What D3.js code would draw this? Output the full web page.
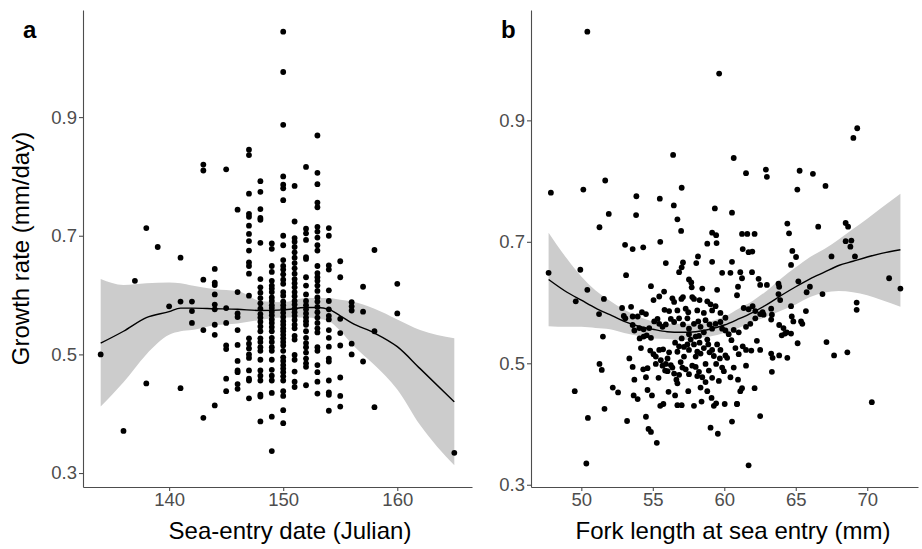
<!DOCTYPE html>
<html><head><meta charset="utf-8">
<script src="https://cdn.jsdelivr.net/npm/d3@7"></script>
<style>
body{margin:0;background:#fff}
svg{display:block}
text{font-family:"Liberation Sans",Arial,Helvetica,sans-serif}
</style>
</head><body>
<svg id="chart" width="922" height="549"></svg>
<script>
// ---------- Panel a: growth rate vs sea-entry date ----------
const datesA = [134,136,137,138,139,140,141,142,143,144,145,146,147,148,149,150,151,152,153,154,155,156,157,158,160,165];
const growthByDateA = [
  [0.500],
  [0.371],
  [0.624],
  [0.713,0.451],
  [0.681],
  [0.581],
  [0.663,0.589,0.443],
  [0.589,0.573,0.553],
  [0.820,0.810,0.626,0.541,0.393],
  [0.644,0.621,0.617,0.601,0.584,0.576,0.550,0.533,0.414],
  [0.812,0.578,0.553,0.515,0.509,0.459,0.438],
  [0.744,0.605,0.569,0.563,0.541,0.516,0.489,0.473,0.470,0.450,0.442],
  [0.845,0.836,0.771,0.737,0.732,0.717,0.703,0.691,0.675,0.655,0.649,0.636,0.599,0.527,0.518,0.510,0.500,0.494,0.473,0.459,0.456,0.426],
  [0.792,0.774,0.745,0.730,0.727,0.688,0.627,0.613,0.604,0.595,0.586,0.577,0.568,0.562,0.555,0.547,0.539,0.527,0.521,0.512,0.506,0.491,0.473,0.464,0.456,0.432,0.429,0.387],
  [0.687,0.678,0.649,0.639,0.624,0.616,0.611,0.605,0.596,0.590,0.583,0.578,0.572,0.566,0.559,0.553,0.546,0.539,0.528,0.521,0.512,0.506,0.491,0.474,0.464,0.456,0.435,0.395,0.337],
  [1.044,0.976,0.887,0.800,0.786,0.780,0.760,0.700,0.684,0.659,0.649,0.643,0.635,0.626,0.619,0.605,0.599,0.589,0.583,0.577,0.570,0.563,0.556,0.550,0.544,0.539,0.533,0.527,0.521,0.515,0.506,0.495,0.489,0.482,0.476,0.470,0.463,0.456,0.438,0.430,0.406,0.384],
  [0.784,0.724,0.696,0.690,0.681,0.672,0.663,0.654,0.645,0.636,0.627,0.620,0.613,0.605,0.598,0.590,0.584,0.577,0.571,0.565,0.558,0.550,0.544,0.531,0.525,0.499,0.491,0.471,0.454,0.445],
  [0.816,0.712,0.704,0.693,0.664,0.661,0.630,0.616,0.601,0.590,0.583,0.576,0.569,0.562,0.556,0.550,0.539,0.528,0.519,0.512,0.503,0.493,0.485,0.479,0.448],
  [0.869,0.806,0.787,0.756,0.748,0.715,0.707,0.697,0.684,0.675,0.649,0.637,0.630,0.624,0.616,0.607,0.596,0.589,0.580,0.571,0.562,0.553,0.544,0.537,0.512,0.506,0.482,0.470,0.454,0.434],
  [0.713,0.700,0.650,0.643,0.608,0.590,0.576,0.565,0.559,0.541,0.528,0.513,0.493,0.488,0.456,0.436,0.432,0.405],
  [0.657,0.630,0.560,0.536,0.515,0.461,0.430,0.412],
  [0.588,0.581,0.574,0.518,0.500],
  [0.614,0.572,0.488],
  [0.676,0.539,0.411],
  [0.619,0.569],
  [0.334]
];
// loess smooth
const smoothAx   = [134,136,138,140,141,142,144,146,148,150,152,153,154,155,156,158,160,162,165];
const smoothAfit = [0.519,0.539,0.562,0.572,0.578,0.578,0.577,0.576,0.574,0.575,0.579,0.579,0.576,0.565,0.553,0.536,0.513,0.476,0.420];
const smoothAhi  = [0.627,0.617,0.620,0.621,0.620,0.616,0.610,0.607,0.590,0.588,0.595,0.595,0.595,0.592,0.589,0.577,0.559,0.541,0.527];
const smoothAlo  = [0.412,0.453,0.500,0.533,0.539,0.541,0.549,0.552,0.558,0.562,0.562,0.560,0.556,0.540,0.518,0.482,0.441,0.381,0.313];
const xTicksA = [140,150,160];
const yTicks = [0.3,0.5,0.7,0.9];

// ---------- Panel b: growth rate vs fork length ----------
const forkLength = [
 50.42,59.64,69.30,69.03,56.42,60.66,61.52,62.91,62.98,65.27,66.20,65.11,67.08,47.87,50.14,51.67,53.85,55.49,57.02,56.47,
 59.34,60.54,51.92,53.83,56.72,51.27,56.98,59.15,59.43,61.24,61.61,62.12,64.41,64.53,66.57,68.49,68.66,55.52,53.06,53.59,
 54.33,58.81,59.46,61.29,61.70,61.96,64.76,65.02,68.49,68.89,68.82,69.14,67.50,64.67,71.53,72.32,47.71,49.93,50.42,49.61,
 51.58,51.24,51.51,51.27,51.43,49.54,50.46,50.35,52.20,52.57,51.62,53.20,54.52,54.70,54.87,55.28,59.04,59.55,61.70,62.51,
 60.54,70.32,67.15,67.68,68.61,69.26,69.26,66.87,65.76,65.99,65.71,65.13,64.41,63.33,62.12,60.03,60.89,
 53.13,54.87,55.91,56.84,57.02,57.11,57.53,57.69,58.04,58.16,57.72,58.46,59.50,59.15,59.85,60.43,60.54,61.12,61.24,60.96,
 61.94,62.40,62.51,62.98,63.79,63.84,
 53.48,53.59,53.94,54.24,54.52,55.05,55.45,55.79,55.82,56.14,56.37,56.49,56.72,57.00,57.11,57.30,57.48,57.76,57.88,58.11,
 58.27,58.57,58.81,59.04,59.15,59.39,59.73,60.08,60.89,61.36,61.70,61.98,62.17,62.51,62.68,63.28,63.79,63.91,
 52.97,53.71,54.06,54.75,55.10,55.33,55.45,55.68,55.91,56.26,56.49,56.84,57.11,57.42,57.53,57.88,58.18,58.34,58.69,58.97,
 59.15,59.39,59.73,59.85,60.08,60.31,60.66,61.01,61.52,61.82,62.17,62.75,63.33,63.84,64.14,64.37,
 54.08,54.36,54.87,54.17,54.82,55.21,55.56,55.72,56.03,56.14,56.56,56.72,56.84,57.02,57.18,57.42,57.53,57.65,57.88,58.00,
 58.11,58.27,58.57,58.81,58.97,59.27,59.50,59.73,60.08,60.20,60.50,60.78,61.01,61.29,61.52,61.89,62.28,62.51,63.28,63.38,
 64.02,64.25,64.67,64.67,64.72,64.83,65.37,65.46,65.18,63.28,63.84,
 53.36,53.59,53.71,53.66,53.94,54.33,54.63,54.52,54.63,54.94,55.21,55.40,55.52,55.74,55.91,56.03,56.10,56.37,56.56,56.72,
 56.72,56.84,57.07,57.02,57.48,57.88,58.00,58.23,58.34,58.46,58.41,58.69,58.81,59.11,59.27,59.43,59.62,59.97,60.43,60.66,
 60.96,60.89,61.12,61.24,61.52,
 52.85,53.08,53.59,54.36,54.57,
 55.05,55.45,55.68,55.86,56.26,56.49,56.65,56.95,57.18,57.30,57.53,57.76,58.00,58.11,58.34,58.69,58.92,59.15,59.43,59.69,
 59.85,57.53,58.23,58.57,58.88,59.15
];
const growthRateB = [
 1.046,0.977,0.887,0.871,0.843,0.838,0.813,0.819,0.807,0.817,0.812,0.786,0.792,0.781,0.786,0.801,0.775,0.771,0.789,0.760,
 0.755,0.748,0.746,0.744,0.737,0.724,0.718,0.715,0.711,0.713,0.713,0.713,0.730,0.714,0.725,0.731,0.725,0.700,0.695,0.688,
 0.691,0.697,0.698,0.688,0.683,0.684,0.685,0.675,0.701,0.702,0.692,0.676,0.676,0.662,0.640,0.623,0.649,0.654,0.621,0.602,
 0.606,0.581,0.544,0.499,0.489,0.454,0.410,0.335,0.460,0.452,0.425,0.405,0.412,0.392,0.387,0.369,0.394,0.384,0.332,0.413,
 0.404,0.436,0.535,0.513,0.518,0.600,0.588,0.614,0.617,0.626,0.586,0.533,0.509,0.486,0.459,0.433,0.433,
 0.645,0.627,0.665,0.650,0.658,0.666,0.638,0.633,0.665,0.676,0.625,0.623,0.621,0.667,0.649,0.649,0.667,0.650,0.640,0.626,
 0.650,0.639,0.629,0.629,0.631,0.626,
 0.593,0.577,0.577,0.584,0.581,0.604,0.610,0.618,0.588,0.586,0.607,0.601,0.587,0.606,0.609,0.590,0.584,0.609,0.606,0.587,
 0.604,0.583,0.602,0.597,0.587,0.594,0.583,0.575,0.612,0.591,0.589,0.594,0.586,0.581,0.584,0.590,0.614,0.604,
 0.578,0.554,0.558,0.558,0.569,0.573,0.565,0.560,0.564,0.573,0.568,0.574,0.564,0.574,0.557,0.565,0.569,0.560,0.571,0.564,
 0.557,0.565,0.568,0.557,0.554,0.548,0.555,0.551,0.560,0.565,0.574,0.580,0.580,0.563,0.558,0.551,
 0.541,0.544,0.542,0.525,0.521,0.511,0.505,0.523,0.508,0.518,0.534,0.519,0.528,0.541,0.527,0.531,0.522,0.539,0.531,0.544,
 0.519,0.534,0.525,0.539,0.518,0.512,0.531,0.522,0.513,0.509,0.538,0.525,0.515,0.528,0.522,0.521,0.537,0.522,0.516,0.509,
 0.546,0.549,0.549,0.594,0.577,0.569,0.569,0.565,0.635,0.572,0.513,
 0.508,0.494,0.473,0.447,0.441,0.490,0.492,0.477,0.456,0.447,0.499,0.476,0.430,0.433,0.499,0.487,0.453,0.493,0.447,0.467,
 0.431,0.481,0.493,0.431,0.454,0.430,0.494,0.486,0.460,0.477,0.437,0.469,0.454,0.443,0.430,0.434,0.471,0.487,0.477,0.493,
 0.473,0.433,0.454,0.459,0.496,
 0.591,0.574,0.563,0.556,0.546,
 0.515,0.522,0.496,0.488,0.497,0.483,0.473,0.502,0.511,0.490,0.482,0.496,0.511,0.479,0.516,0.499,0.488,0.476,0.499,0.508,
 0.493,0.548,0.545,0.551,0.531,0.522
];
const smoothBx   = [47.71,49,50,51,52,53,54,55,56,57,58,59,60,61,62,63,64,65,66,67,68,69,70,71,72.32];
const smoothBfit = [0.638,0.617,0.604,0.591,0.580,0.569,0.561,0.556,0.552,0.551,0.552,0.556,0.563,0.573,0.584,0.597,0.612,0.626,0.639,0.650,0.661,0.668,0.675,0.681,0.687];
const smoothBhi  = [0.715,0.672,0.643,0.620,0.603,0.588,0.577,0.569,0.565,0.565,0.565,0.569,0.577,0.590,0.603,0.620,0.640,0.658,0.675,0.688,0.704,0.721,0.738,0.756,0.779];
const smoothBlo  = [0.561,0.560,0.560,0.558,0.556,0.550,0.545,0.541,0.540,0.538,0.541,0.544,0.550,0.558,0.568,0.577,0.587,0.597,0.609,0.616,0.619,0.617,0.612,0.604,0.593];
const xTicksB = [50,55,60,65,70];

// ---------- drawing ----------
const svg = d3.select("#chart");
const TOP = 10, BOTTOM = 487;
const AXIS_COL = "#4d4d4d", TICK_TXT = "#4d4d4d";

function expand(vals, f = 0.05) {
  const [a, b] = d3.extent(vals);
  const r = b - a;
  return [a - r * f, b + r * f];
}

function drawPanel(cfg) {
  const g = svg.append("g");
  const x = d3.scaleLinear().domain(expand(cfg.xAll)).range([cfg.left, cfg.right]);
  const y = d3.scaleLinear().domain(expand(cfg.yAll)).range([BOTTOM, TOP]);

  const band = cfg.sx.map((v, i) => ({x: v, lo: cfg.slo[i], hi: cfg.shi[i], f: cfg.sfit[i]}));
  g.append("path").datum(band)
    .attr("fill", "#cccccc")
    .attr("d", d3.area().curve(d3.curveMonotoneX).x(d => x(d.x)).y0(d => y(d.lo)).y1(d => y(d.hi)));

  g.append("g").selectAll("circle").data(cfg.points).join("circle")
    .attr("cx", d => x(d[0])).attr("cy", d => y(d[1])).attr("r", 2.9).attr("fill", "#000");

  g.append("path").datum(band)
    .attr("fill", "none").attr("stroke", "#000").attr("stroke-width", 1.4)
    .attr("d", d3.line().curve(d3.curveMonotoneX).x(d => x(d.x)).y(d => y(d.f)));

  const ax = g.append("g").attr("transform", `translate(0,${BOTTOM})`)
    .call(d3.axisBottom(x).tickValues(cfg.xTicks).tickFormat(d3.format("d")).tickSize(4).tickSizeOuter(0).tickPadding(2));
  const ay = g.append("g").attr("transform", `translate(${cfg.left},0)`)
    .call(d3.axisLeft(y).tickValues(yTicks).tickFormat(d3.format(".1f")).tickSize(4).tickSizeOuter(0).tickPadding(2));
  [ax, ay].forEach(a => {
    a.select(".domain").attr("stroke", AXIS_COL).attr("stroke-width", 1.1);
    a.selectAll(".tick line").attr("stroke", AXIS_COL).attr("stroke-width", 1.1);
    a.selectAll(".tick text").attr("fill", TICK_TXT).style("font-size", "18.5px")
      .style("font-family", '"Liberation Sans",Arial,sans-serif');
  });

  g.append("text").attr("x", cfg.xTitleX).attr("y", 539).attr("text-anchor", "middle")
    .style("font-size", "24px").attr("fill", "#000").text(cfg.xTitle);
  g.append("text").attr("x", cfg.tagX).attr("y", 38)
    .style("font-size", "24px").style("font-weight", "bold").attr("fill", "#000").text(cfg.tag);
}

const pointsA = [];
datesA.forEach((d, i) => growthByDateA[i].forEach(v => pointsA.push([d, v])));
const pointsB = forkLength.map((f, i) => [f, growthRateB[i]]);

drawPanel({
  left: 83, right: 472,
  xAll: datesA.concat(smoothAx),
  yAll: pointsA.map(p => p[1]).concat(smoothAlo, smoothAhi),
  points: pointsA, sx: smoothAx, sfit: smoothAfit, slo: smoothAlo, shi: smoothAhi,
  xTicks: xTicksA, xTitle: "Sea-entry date (Julian)", xTitleX: 290, tag: "a", tagX: 23
});
drawPanel({
  left: 531, right: 918,
  xAll: forkLength.concat(smoothBx),
  yAll: growthRateB.concat(smoothBlo, smoothBhi),
  points: pointsB, sx: smoothBx, sfit: smoothBfit, slo: smoothBlo, shi: smoothBhi,
  xTicks: xTicksB, xTitle: "Fork length at sea entry (mm)", xTitleX: 733, tag: "b", tagX: 501
});

svg.append("text").attr("transform", `translate(29,${(TOP + BOTTOM) / 2}) rotate(-90)`)
  .attr("text-anchor", "middle").style("font-size", "24px").attr("fill", "#000")
  .text("Growth rate (mm/day)");
</script>
</body></html>
